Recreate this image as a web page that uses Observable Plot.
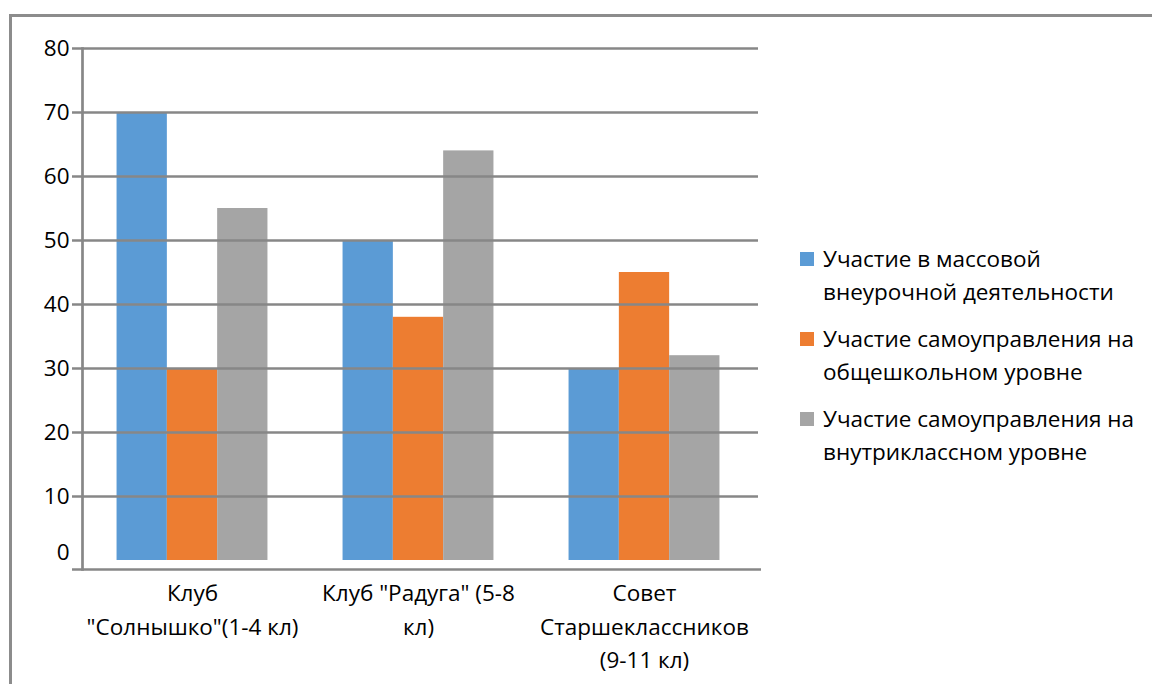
<!DOCTYPE html>
<html>
<head>
<meta charset="utf-8">
<script src="https://cdn.jsdelivr.net/npm/d3@7"></script>
<script src="https://cdn.jsdelivr.net/npm/@observablehq/plot@0.6"></script>
<style>
  html, body { margin: 0; padding: 0; background: #fff; }
  #wrap { position: relative; width: 1152px; height: 684px; overflow: hidden; font-family: "Open Sans", sans-serif; }
  #border { position: absolute; left: 9px; top: 14px; width: 1200px; height: 700px; border-left: 3px solid #8c8c8c; border-top: 3px solid #8c8c8c; }
  #chart { position: absolute; left: 0; top: 0; }
  #legend { position: absolute; left: 800px; top: 242px; font-size: 22.5px; line-height: 33px; color: #000; white-space: nowrap; }
  .item { display: flex; align-items: flex-start; margin-bottom: 14px; }
  .sw { width: 14px; height: 14px; margin-top: 10px; margin-right: 9px; flex: none; }
</style>
</head>
<body>
<div id="wrap">
  <div id="border"></div>
  <div id="chart"></div>
  <div id="legend"></div>
</div>
<script>
const categories = ["Клуб \"Солнышко\"(1-4 кл)", "Клуб \"Радуга\" (5-8 кл)", "Совет Старшеклассников (9-11 кл)"];
const categoryLabels = ["Клуб\n\"Солнышко\"(1-4 кл)", "Клуб \"Радуга\" (5-8\nкл)", "Совет\nСтаршеклассников\n(9-11 кл)"];
const seriesNames = ["Участие в массовой внеурочной деятельности", "Участие самоуправления на общешкольном уровне", "Участие самоуправления на внутриклассном уровне"];
const seriesLegendLines = [["Участие в массовой", "внеурочной деятельности"], ["Участие самоуправления на", "общешкольном уровне"], ["Участие самоуправления на", "внутриклассном уровне"]];
const seriesColors = ["#5B9BD5", "#ED7D31", "#A5A5A5"];
const massValues = [70, 50, 30];
const schoolValues = [30, 38, 45];
const classValues = [55, 64, 32];
const yTicks = [10, 20, 30, 40, 50, 60, 70, 80];

const seriesValues = [massValues, schoolValues, classValues];
const gridColor = "#878787";
const fs = 22.5;

const bandW = (1152 - 79 - 395) / 3;
const barW = 50.3;
const inset = (bandW - barW) / 2;

const barMarks = seriesValues.map((vals, i) =>
  Plot.barY(categories.map((c, j) => ({cat: c, value: vals[j]})), {
    x: "cat", y: "value", fill: seriesColors[i],
    insetLeft: inset, insetRight: inset, dx: (i - 1) * barW
  })
);

const chart = Plot.plot({
  width: 1152,
  height: 684,
  marginLeft: 79,
  marginRight: 395,
  marginTop: 48,
  marginBottom: 124,
  style: {fontFamily: "'Open Sans', sans-serif", fontSize: fs + "px", color: "#000", background: "transparent"},
  x: {domain: categories, padding: 0, axis: null},
  y: {domain: [0, 80], axis: null},
  marks: [
    ...barMarks,
    Plot.ruleY(yTicks, {stroke: gridColor, strokeWidth: 2.7, insetLeft: -7, insetRight: -1}),
    Plot.ruleY([0], {stroke: gridColor, strokeWidth: 2.7, dy: 9, insetLeft: -7, insetRight: -4}),
    Plot.frame({anchor: "left", stroke: gridColor, strokeWidth: 2.7, dx: 3, insetBottom: -9}),
    Plot.axisY({ticks: yTicks, label: null, tickSize: 0, tickPadding: 10, fontSize: fs, tickFormat: d => String(d), fill: "#000"}),
    Plot.axisY({ticks: [0], label: null, tickSize: 0, tickPadding: 10, fontSize: fs, dy: -8, tickFormat: d => String(d), fill: "#000"}),
    Plot.axisX({label: null, tickSize: 0, tickPadding: 17, fontSize: fs, lineHeight: 33.5 / fs, fill: "#000",
      tickFormat: d => categoryLabels[categories.indexOf(d)]})
  ]
});
document.getElementById("chart").appendChild(chart);

const legend = document.getElementById("legend");
seriesNames.forEach((name, i) => {
  const item = document.createElement("div");
  item.className = "item";
  item.title = name;
  const sw = document.createElement("div");
  sw.className = "sw";
  sw.style.background = seriesColors[i];
  const txt = document.createElement("div");
  txt.innerHTML = seriesLegendLines[i].join("<br>");
  item.appendChild(sw);
  item.appendChild(txt);
  legend.appendChild(item);
});
</script>
</body>
</html>
